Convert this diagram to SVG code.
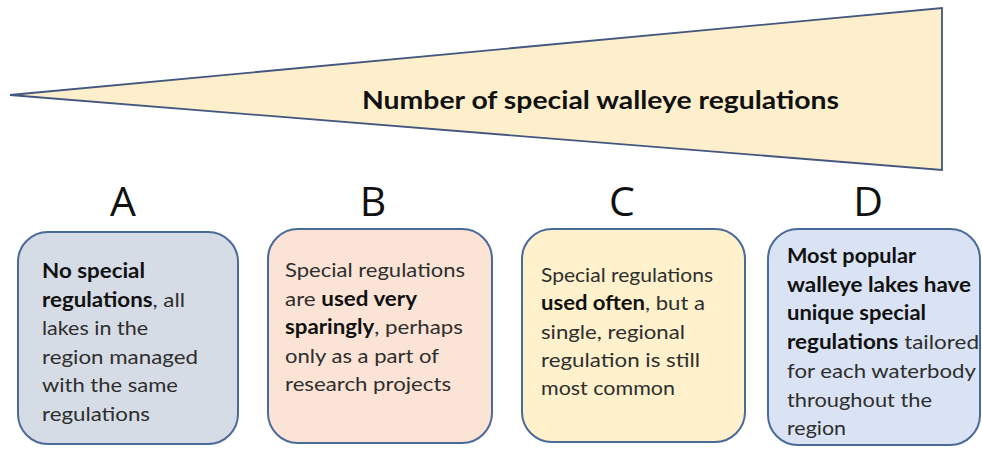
<svg xmlns="http://www.w3.org/2000/svg" width="982" height="449" viewBox="0 0 982 449">
<style>
.t{font-family:Lato,"Open Sans","Liberation Sans",sans-serif;font-size:20px;fill:#2e2e2e}
.b{font-weight:bold;fill:#111}
.L{font-family:"Open Sans","Liberation Sans",sans-serif;font-size:41px;fill:#111;text-anchor:middle}
.box{stroke:#4a6a9a;stroke-width:2}
</style>
<rect width="982" height="449" fill="#ffffff"/>
<g id="wedge">
<polygon points="10,95 942,8 942,170" fill="#fdefcb" stroke="#44577f" stroke-width="1.8" stroke-linejoin="miter"/>
<text x="362" y="109" font-family="Lato,'Open Sans','Liberation Sans',sans-serif" font-size="25" font-weight="bold" fill="#111" textLength="477" lengthAdjust="spacingAndGlyphs">Number of special walleye regulations</text>
</g>
<g id="labels">
<text class="L" x="123" y="216">A</text>
<text class="L" x="373" y="216">B</text>
<text class="L" x="622" y="216">C</text>
<text class="L" x="868" y="216">D</text>
</g>
<g id="nodeA">
<rect class="box" x="18" y="232" width="220" height="212" rx="30" fill="#d6dce5"/>
<text class="t" x="42" y="278" textLength="103" lengthAdjust="spacingAndGlyphs"><tspan class="b">No special</tspan></text>
<text class="t" x="42" y="306.6" textLength="143" lengthAdjust="spacingAndGlyphs"><tspan class="b">regulations</tspan>, all</text>
<text class="t" x="42" y="335.2" textLength="106" lengthAdjust="spacingAndGlyphs">lakes in the</text>
<text class="t" x="42" y="363.8" textLength="156" lengthAdjust="spacingAndGlyphs">region managed</text>
<text class="t" x="42" y="392.4" textLength="136" lengthAdjust="spacingAndGlyphs">with the same</text>
<text class="t" x="42" y="421" textLength="108" lengthAdjust="spacingAndGlyphs">regulations</text>
</g>
<g id="nodeB">
<rect class="box" x="268" y="229" width="224" height="214" rx="30" fill="#fbe3d5"/>
<text class="t" x="285" y="277" textLength="180" lengthAdjust="spacingAndGlyphs">Special regulations</text>
<text class="t" x="285" y="305.6" textLength="132" lengthAdjust="spacingAndGlyphs">are <tspan class="b">used very</tspan></text>
<text class="t" x="285" y="334.2" textLength="178" lengthAdjust="spacingAndGlyphs"><tspan class="b">sparingly</tspan>, perhaps</text>
<text class="t" x="285" y="362.8" textLength="154" lengthAdjust="spacingAndGlyphs">only as a part of</text>
<text class="t" x="285" y="391.4" textLength="166" lengthAdjust="spacingAndGlyphs">research projects</text>
</g>
<g id="nodeC">
<rect class="box" x="522" y="229" width="223" height="213" rx="30" fill="#fef1cb"/>
<text class="t" x="541" y="282" textLength="172" lengthAdjust="spacingAndGlyphs">Special regulations</text>
<text class="t" x="541" y="310.3" textLength="164" lengthAdjust="spacingAndGlyphs"><tspan class="b">used often</tspan>, but a</text>
<text class="t" x="541" y="338.6" textLength="144" lengthAdjust="spacingAndGlyphs">single, regional</text>
<text class="t" x="541" y="366.9" textLength="159" lengthAdjust="spacingAndGlyphs">regulation is still</text>
<text class="t" x="541" y="395.2" textLength="134" lengthAdjust="spacingAndGlyphs">most common</text>
</g>
<g id="nodeD">
<rect class="box" x="768" y="229" width="212" height="216" rx="30" fill="#dae3f3"/>
<text class="t" x="787" y="263" textLength="129" lengthAdjust="spacingAndGlyphs"><tspan class="b">Most popular</tspan></text>
<text class="t" x="787" y="291.7" textLength="184" lengthAdjust="spacingAndGlyphs"><tspan class="b">walleye lakes have</tspan></text>
<text class="t" x="787" y="320.4" textLength="139" lengthAdjust="spacingAndGlyphs"><tspan class="b">unique special</tspan></text>
<text class="t" x="787" y="349.1" textLength="192" lengthAdjust="spacingAndGlyphs"><tspan class="b">regulations</tspan> tailored</text>
<text class="t" x="787" y="377.8" textLength="189" lengthAdjust="spacingAndGlyphs">for each waterbody</text>
<text class="t" x="787" y="406.5" textLength="145" lengthAdjust="spacingAndGlyphs">throughout the</text>
<text class="t" x="787" y="435.2" textLength="59" lengthAdjust="spacingAndGlyphs">region</text>
</g>
<g id="connectors"/>
</svg>
